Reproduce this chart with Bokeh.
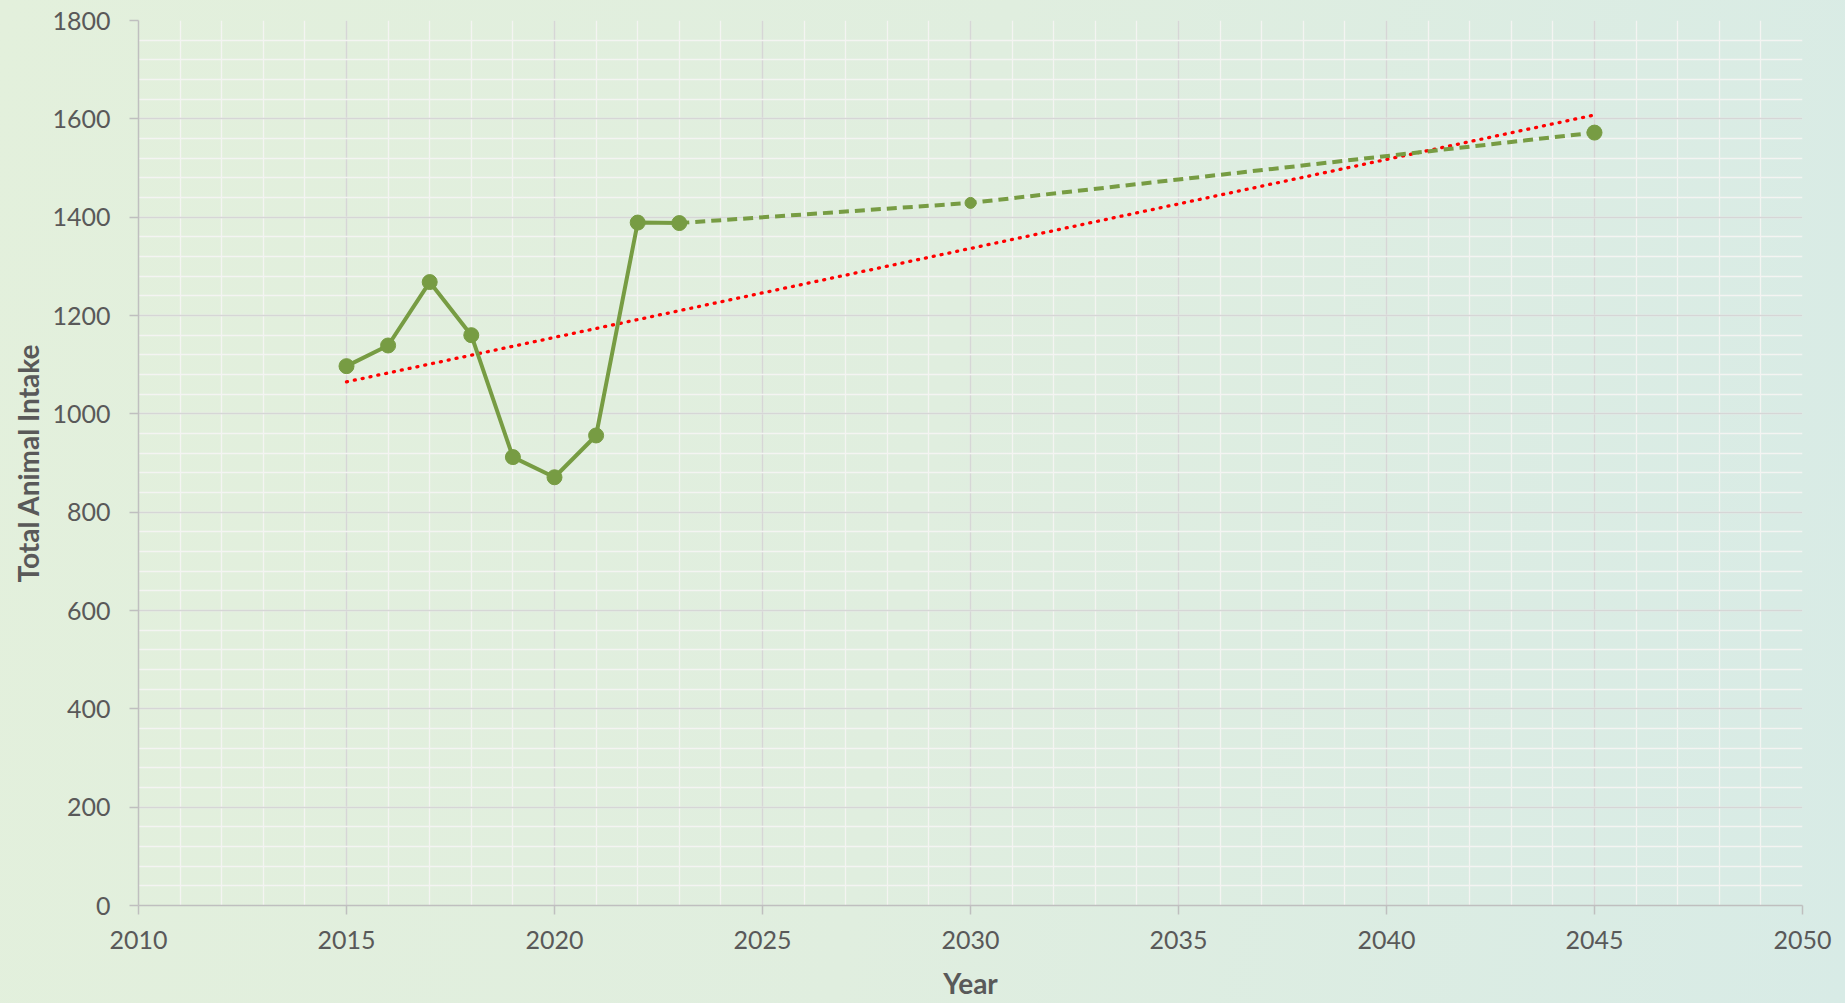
import numpy as np
from bokeh.plotting import figure
from bokeh.models import ColumnDataSource, Range1d, FixedTicker
from bokeh.embed import file_html
from bokeh.resources import INLINE

# ---- data ----
years_actual = [2015, 2016, 2017, 2018, 2019, 2020, 2021, 2022, 2023]
intake_actual = [1097, 1139, 1268, 1160, 912, 871, 956, 1389, 1388]
years_forecast = [2023, 2030, 2045]
intake_forecast = [1388, 1429, 1572]
x_ticks = [2010, 2015, 2020, 2025, 2030, 2035, 2040, 2045, 2050]
y_ticks = [0, 200, 400, 600, 800, 1000, 1200, 1400, 1600, 1800]

GREEN = "#779C43"
TXT = "#595959"
FONT = "Lato"
BG = "linear-gradient(100deg, #e3f0dc 0%, #e0eedf 50%, #d8ebe6 100%)"

p = figure(width=1845, height=1003, output_backend="svg", toolbar_location=None,
           x_range=Range1d(2010, 2050), y_range=Range1d(0, 1800),
           min_border_left=138, min_border_right=43, min_border_top=20, min_border_bottom=98)
p.styles = {"background": BG}
p.background_fill_alpha = 0
p.border_fill_alpha = 0
p.outline_line_color = None

# grids
p.xaxis.ticker = FixedTicker(ticks=x_ticks, minor_ticks=list(range(2010, 2051)))
p.yaxis.ticker = FixedTicker(ticks=y_ticks, minor_ticks=list(range(0, 1801, 40)))
p.xgrid.grid_line_color = "#d6d6d6"
p.ygrid.grid_line_color = "#d6d6d6"
p.xgrid.grid_line_width = 1.5
p.ygrid.grid_line_width = 1.5
p.xgrid.minor_grid_line_color = "#f4f4f2"
p.ygrid.minor_grid_line_color = "#f4f4f2"
p.xgrid.minor_grid_line_width = 1.3
p.ygrid.minor_grid_line_width = 1.3

for ax in (p.xaxis[0], p.yaxis[0]):
    ax.axis_line_color = "#bfbfbf"
    ax.axis_line_width = 1.5
    ax.major_tick_line_color = "#bfbfbf"
    ax.major_tick_line_width = 1.5
    ax.major_tick_out = 9
    ax.major_tick_in = 0
    ax.minor_tick_line_color = None
    ax.major_label_text_font = FONT
    ax.major_label_text_font_size = "25px"
    ax.major_label_text_color = TXT
    ax.axis_label_text_font = FONT
    ax.axis_label_text_font_size = "28px"
    ax.axis_label_text_font_style = "bold"
    ax.axis_label_text_color = TXT

p.xaxis.axis_label = "Year"
p.yaxis.axis_label = "Total Animal Intake"
p.xaxis.major_label_standoff = 16
p.yaxis.major_label_standoff = 19
p.xaxis.axis_label_standoff = 14
p.yaxis.axis_label_standoff = 4

# trend line (linear fit of all points)
all_x = np.array(years_actual + years_forecast[1:], dtype=float)
all_y = np.array(intake_actual + intake_forecast[1:], dtype=float)
slope, intercept = np.polyfit(all_x, all_y, 1)
tx = [years_actual[0], years_forecast[-1]]
ty = [slope * x + intercept for x in tx]
p.line(tx, ty, line_color="#ff0000", line_width=3.3, line_dash="1 7", line_cap="round")

# series
src_a = ColumnDataSource(dict(x=years_actual, y=intake_actual))
src_f = ColumnDataSource(dict(x=years_forecast, y=intake_forecast))
p.line("x", "y", source=src_a, line_color=GREEN, line_width=4)
p.line("x", "y", source=src_f, line_color=GREEN, line_width=4, line_dash="10 6")
p.scatter("x", "y", source=src_a, size=15, fill_color=GREEN, line_color=GREEN)
p.scatter([years_forecast[1]], [intake_forecast[1]], size=11, fill_color=GREEN, line_color=GREEN)
p.scatter([years_forecast[2]], [intake_forecast[2]], size=15, fill_color=GREEN, line_color=GREEN)

html = file_html(p, INLINE)
html = html.replace("</head>",
                    "<style>html, body { margin: 0 !important; padding: 0 !important; overflow: hidden; "
                    "background: " + BG + "; }</style></head>", 1)
open("out.html", "w").write(html)
